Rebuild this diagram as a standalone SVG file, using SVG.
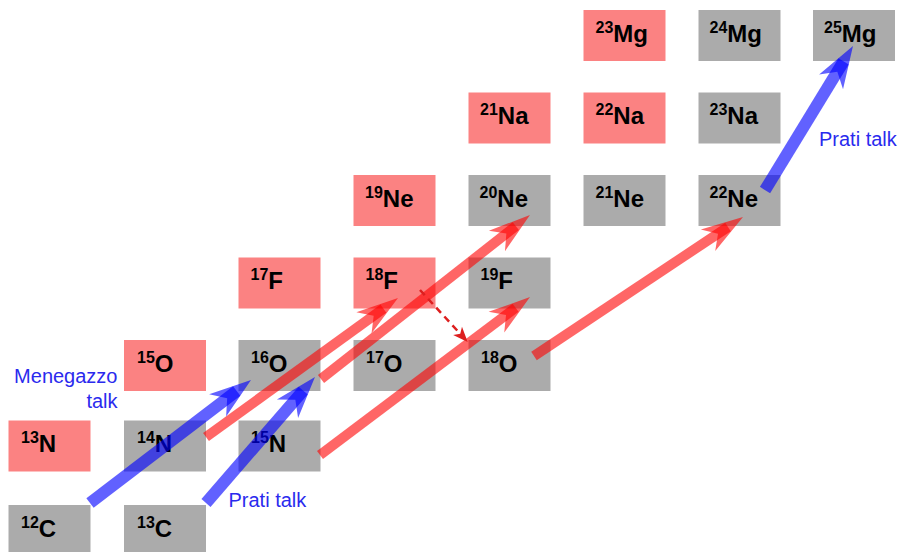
<svg xmlns="http://www.w3.org/2000/svg" width="899" height="552" viewBox="0 0 899 552">
  <style>
    .box rect { stroke: none; }
    .unstable rect { fill: #fb8282; }
    .stable rect { fill: #ababab; }
    .iso { font-family: "Liberation Sans", Arial, Helvetica, sans-serif; font-weight: bold; font-size: 24px; fill: #000; }
    .iso .sup { font-size: 16px; }
    .note { font-family: "Liberation Sans", Arial, Helvetica, sans-serif; font-size: 20px; fill: #2a2aee; }
    .flow-red { stroke: #ff0000; stroke-opacity: 0.6; stroke-width: 10; fill: none; marker-end: url(#head-red); }
    .flow-blue { stroke: #0000ff; stroke-opacity: 0.62; stroke-width: 12; fill: none; marker-end: url(#head-blue); }
    .decay { stroke: #dd1f1f; stroke-width: 2.5; stroke-dasharray: 7 5; fill: none; marker-end: url(#head-decay); }
  </style>
  <defs>
    <!-- swept-back arrowheads; shafts stop 18px short of the tip -->
    <marker id="head-red" markerUnits="userSpaceOnUse" orient="auto" refX="0" refY="0" markerWidth="60" markerHeight="40" viewBox="-30 -20 60 40" overflow="visible">
      <path d="M18,0 L-24,-13 L-12,0 L-24,13 Z" fill="#ff0000" fill-opacity="0.6"/>
    </marker>
    <marker id="head-blue" markerUnits="userSpaceOnUse" orient="auto" refX="0" refY="0" markerWidth="60" markerHeight="40" viewBox="-30 -20 60 40" overflow="visible">
      <path d="M18,0 L-24,-14 L-12,0 L-24,14 Z" fill="#0000ff" fill-opacity="0.62"/>
    </marker>
    <marker id="head-decay" markerUnits="userSpaceOnUse" orient="auto" refX="0" refY="0" markerWidth="30" markerHeight="20" viewBox="-15 -10 30 20" overflow="visible">
      <path d="M4,0 L-11,-6 L-7,0 L-11,6 Z" fill="#dd1f1f"/>
    </marker>
  </defs>

  <!-- Mg row -->
  <g id="mg23" class="box unstable"><rect x="583.5" y="10" width="82" height="51"/><text class="iso" x="595.5" y="41.5"><tspan class="sup" dy="-9">23</tspan><tspan dy="9">Mg</tspan></text></g>
  <g id="mg24" class="box stable"><rect x="698.5" y="10" width="82" height="51"/><text class="iso" x="709.5" y="41.5"><tspan class="sup" dy="-9">24</tspan><tspan dy="9">Mg</tspan></text></g>
  <g id="mg25" class="box stable"><rect x="813" y="10" width="82" height="51"/><text class="iso" x="824" y="41.5"><tspan class="sup" dy="-9">25</tspan><tspan dy="9">Mg</tspan></text></g>

  <!-- Na row -->
  <g id="na21" class="box unstable"><rect x="468.5" y="92.5" width="82" height="51"/><text class="iso" x="480" y="124"><tspan class="sup" dy="-9">21</tspan><tspan dy="9">Na</tspan></text></g>
  <g id="na22" class="box unstable"><rect x="583.5" y="92.5" width="82" height="51"/><text class="iso" x="595.5" y="124"><tspan class="sup" dy="-9">22</tspan><tspan dy="9">Na</tspan></text></g>
  <g id="na23" class="box stable"><rect x="698.5" y="92.5" width="82" height="51"/><text class="iso" x="709.5" y="124"><tspan class="sup" dy="-9">23</tspan><tspan dy="9">Na</tspan></text></g>

  <!-- Ne row -->
  <g id="ne19" class="box unstable"><rect x="353.5" y="175" width="82" height="51"/><text class="iso" x="365" y="206.5"><tspan class="sup" dy="-9">19</tspan><tspan dy="9">Ne</tspan></text></g>
  <g id="ne20" class="box stable"><rect x="468.5" y="175" width="82" height="51"/><text class="iso" x="479.5" y="206.5"><tspan class="sup" dy="-9">20</tspan><tspan dy="9">Ne</tspan></text></g>
  <g id="ne21" class="box stable"><rect x="583.5" y="175" width="82" height="51"/><text class="iso" x="595.5" y="206.5"><tspan class="sup" dy="-9">21</tspan><tspan dy="9">Ne</tspan></text></g>
  <g id="ne22" class="box stable"><rect x="698.5" y="175" width="82" height="51"/><text class="iso" x="709.5" y="206.5"><tspan class="sup" dy="-9">22</tspan><tspan dy="9">Ne</tspan></text></g>

  <!-- F row -->
  <g id="f17" class="box unstable"><rect x="238.5" y="257.5" width="82" height="51"/><text class="iso" x="250.5" y="289"><tspan class="sup" dy="-9">17</tspan><tspan dy="9">F</tspan></text></g>
  <g id="f18" class="box unstable"><rect x="353.5" y="257.5" width="82" height="51"/><text class="iso" x="365.5" y="289"><tspan class="sup" dy="-9">18</tspan><tspan dy="9">F</tspan></text></g>
  <g id="f19" class="box stable"><rect x="468.5" y="257.5" width="82" height="51"/><text class="iso" x="480.5" y="289"><tspan class="sup" dy="-9">19</tspan><tspan dy="9">F</tspan></text></g>

  <!-- O row -->
  <g id="o15" class="box unstable"><rect x="124" y="340" width="82" height="51"/><text class="iso" x="137" y="371.5"><tspan class="sup" dy="-9">15</tspan><tspan dy="9">O</tspan></text></g>
  <g id="o16" class="box stable"><rect x="238.5" y="340" width="82" height="51"/><text class="iso" x="251" y="371.5"><tspan class="sup" dy="-9">16</tspan><tspan dy="9">O</tspan></text></g>
  <g id="o17" class="box stable"><rect x="353.5" y="340" width="82" height="51"/><text class="iso" x="366" y="371.5"><tspan class="sup" dy="-9">17</tspan><tspan dy="9">O</tspan></text></g>
  <g id="o18" class="box stable"><rect x="468.5" y="340" width="82" height="51"/><text class="iso" x="481" y="371.5"><tspan class="sup" dy="-9">18</tspan><tspan dy="9">O</tspan></text></g>

  <!-- N row -->
  <g id="n13" class="box unstable"><rect x="8.5" y="420.5" width="82" height="51"/><text class="iso" x="21" y="452"><tspan class="sup" dy="-9">13</tspan><tspan dy="9">N</tspan></text></g>
  <g id="n14" class="box stable"><rect x="124" y="420.5" width="82" height="51"/><text class="iso" x="137" y="452"><tspan class="sup" dy="-9">14</tspan><tspan dy="9">N</tspan></text></g>
  <g id="n15" class="box stable"><rect x="238.5" y="420.5" width="82" height="51"/><text class="iso" x="251" y="452"><tspan class="sup" dy="-9">15</tspan><tspan dy="9">N</tspan></text></g>

  <!-- C row -->
  <g id="c12" class="box stable"><rect x="8.5" y="505" width="82" height="51"/><text class="iso" x="21" y="536.5"><tspan class="sup" dy="-9">12</tspan><tspan dy="9">C</tspan></text></g>
  <g id="c13" class="box stable"><rect x="124" y="505" width="82" height="51"/><text class="iso" x="137" y="536.5"><tspan class="sup" dy="-9">13</tspan><tspan dy="9">C</tspan></text></g>

  <!-- reaction paths -->
  <g id="connectors">
    <line class="flow-red" x1="206" y1="437" x2="383.4" y2="308.6"/>
    <line class="flow-red" x1="321" y1="379" x2="515.8" y2="226.1"/>
    <line class="flow-red" x1="320" y1="455" x2="515.6" y2="307.8"/>
    <line class="flow-red" x1="534" y1="356" x2="728" y2="227"/>
    <line class="flow-blue" x1="90" y1="503" x2="236.7" y2="390.9"/>
    <line class="flow-blue" x1="206" y1="503" x2="303.2" y2="390.6"/>
    <line class="flow-blue" x1="765" y1="190" x2="843.6" y2="61.4"/>
    <line class="decay" x1="420" y1="290" x2="465" y2="339"/>
  </g>

  <!-- talk labels -->
  <g id="labels">
    <text class="note" x="117.5" y="383" text-anchor="end">Menegazzo</text>
    <text class="note" x="117.5" y="408" text-anchor="end">talk</text>
    <text class="note" x="228.5" y="507">Prati talk</text>
    <text class="note" x="819" y="146">Prati talk</text>
  </g>
</svg>
